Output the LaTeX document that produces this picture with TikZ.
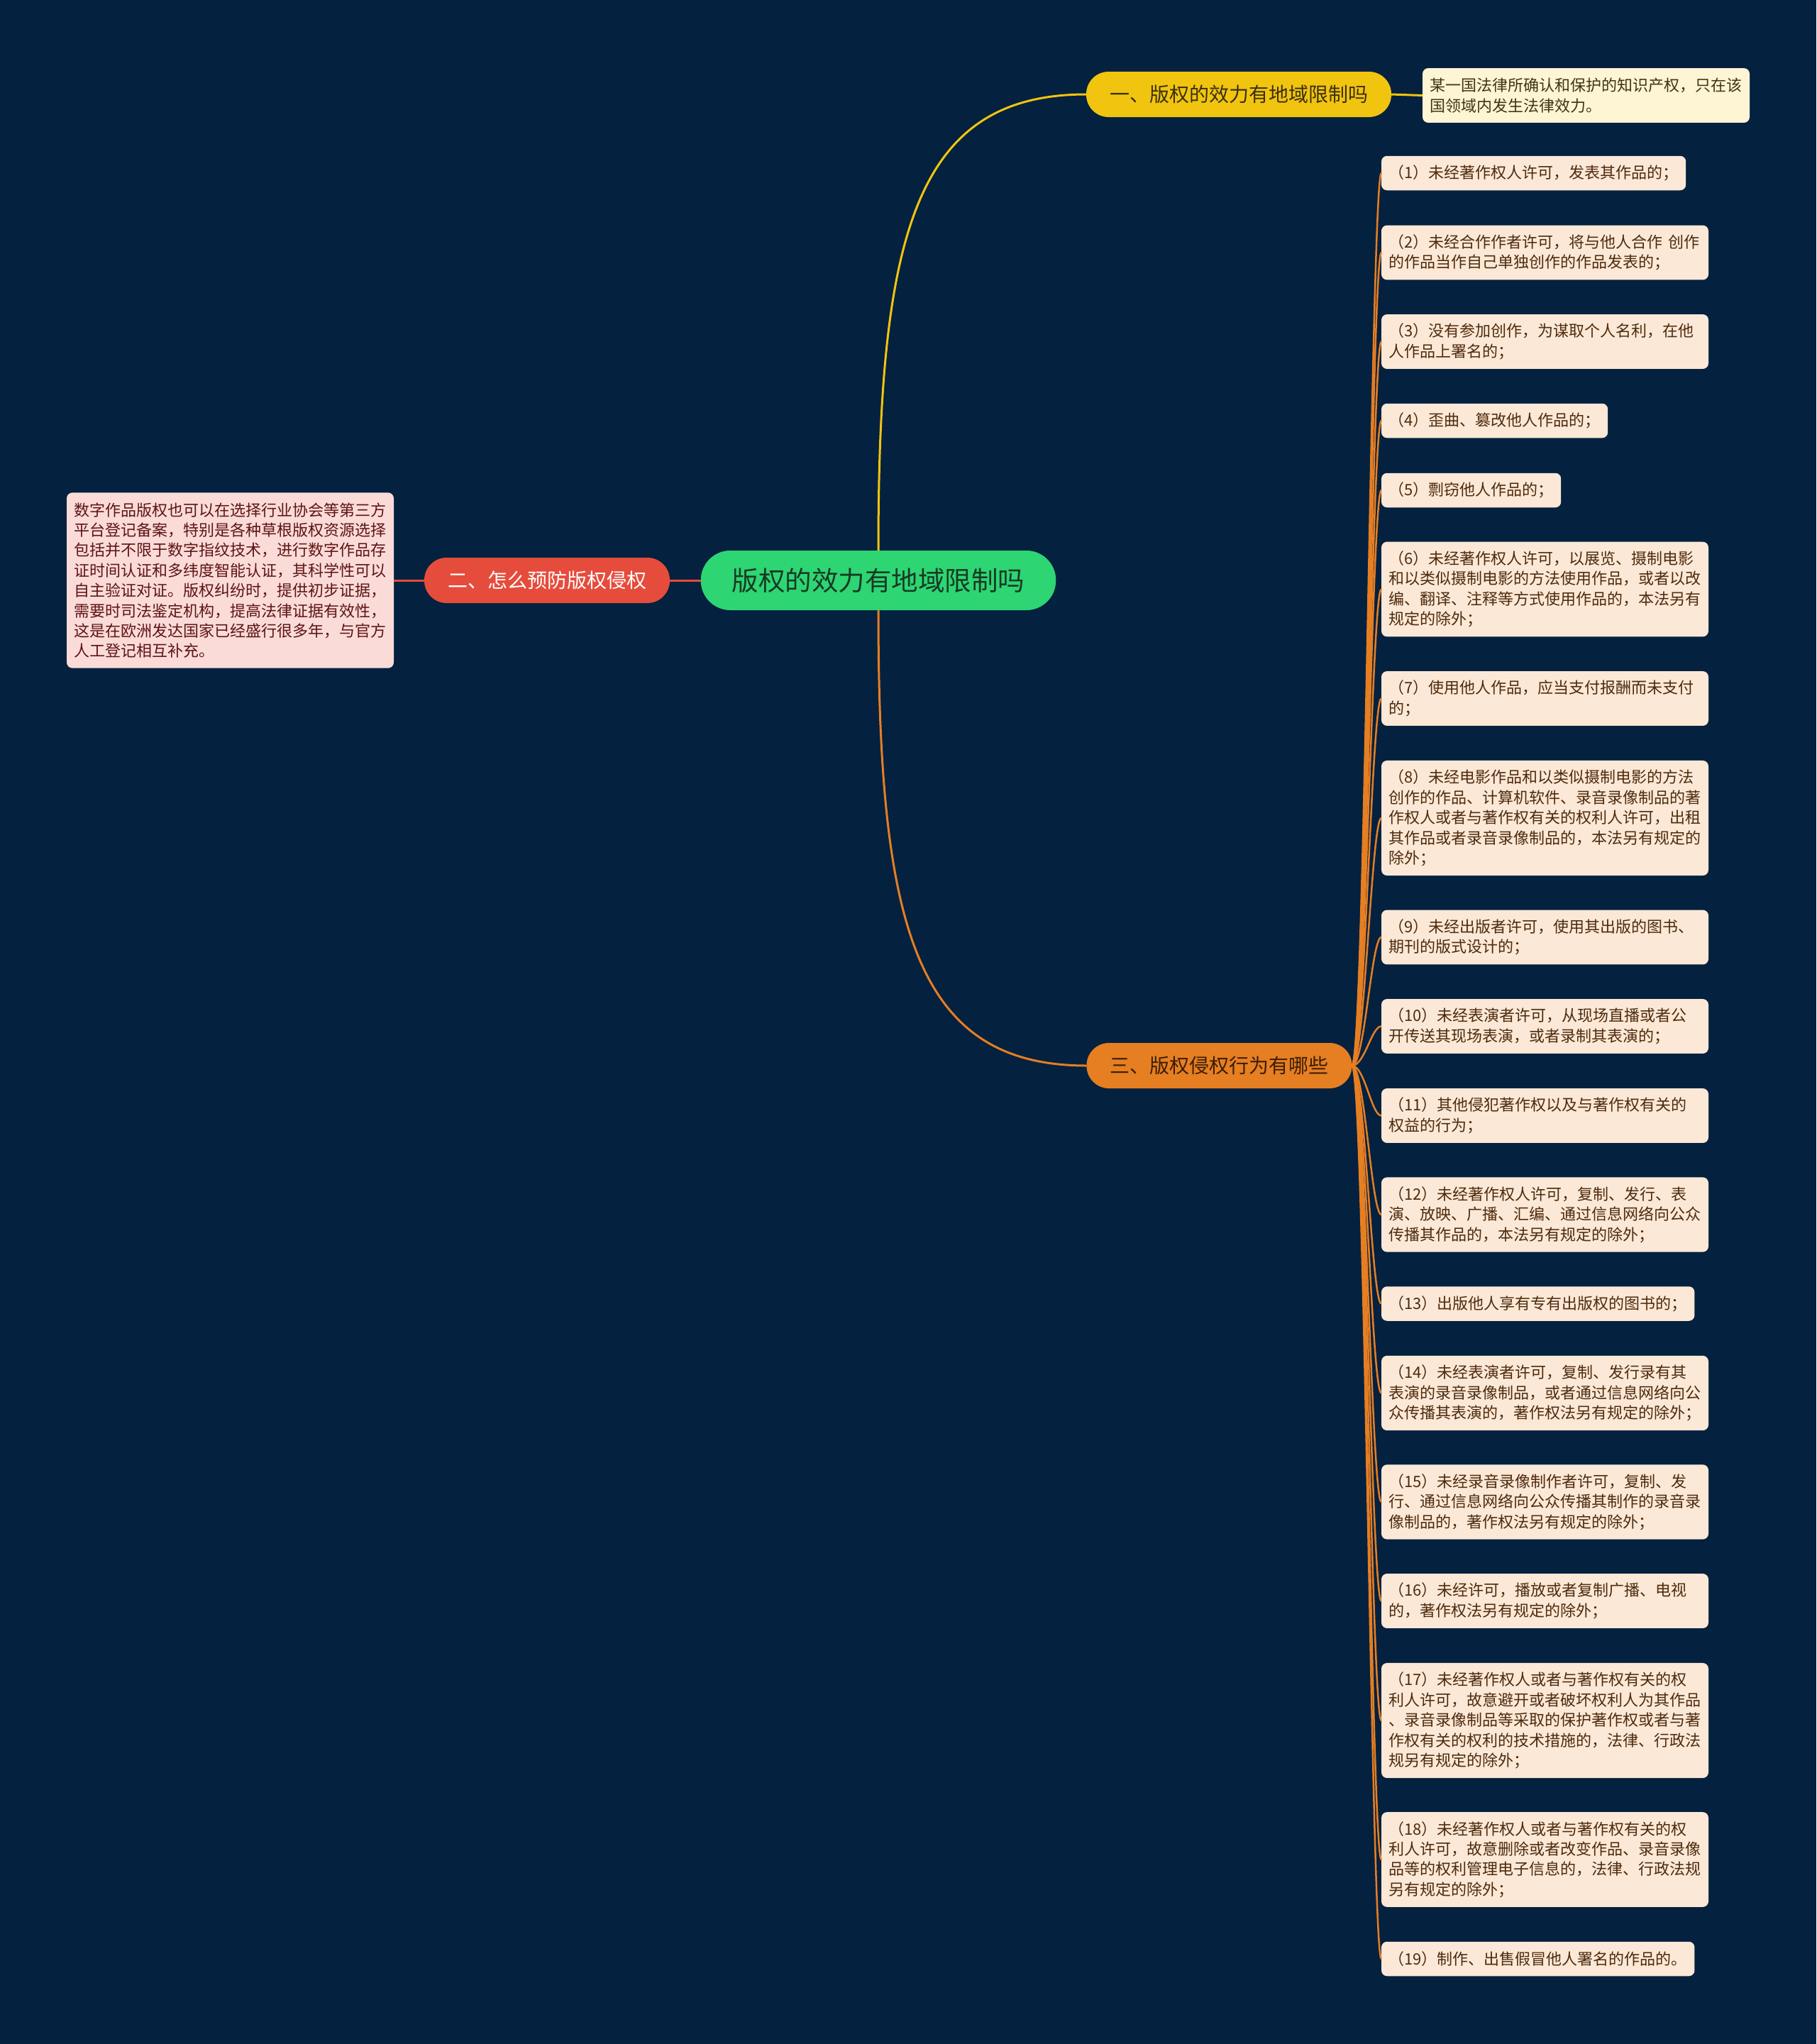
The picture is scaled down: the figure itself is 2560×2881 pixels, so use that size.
\documentclass[tikz,border=0pt]{standalone}
\usepackage{fontspec}
\setmainfont{Noto Sans CJK SC}
\definecolor{bg}{HTML}{04213F}
\definecolor{cgreen}{HTML}{2ED573}
\definecolor{cgreentext}{HTML}{173A24}
\definecolor{cyellow}{HTML}{F1C40F}
\definecolor{cyellowtext}{HTML}{3A3010}
\definecolor{cred}{HTML}{E64C3C}
\definecolor{corange}{HTML}{E67E22}
\definecolor{corangetext}{HTML}{3B1E05}
\definecolor{leafRfill}{HTML}{FCE8D6}
\definecolor{leafRtext}{HTML}{4D2B0E}
\definecolor{leafYfill}{HTML}{FEF5D4}
\definecolor{leafYtext}{HTML}{3E3512}
\definecolor{leafLfill}{HTML}{FADBD8}
\definecolor{leafLtext}{HTML}{5E1414}
\begin{document}
\begin{tikzpicture}[x=1pt,y=-1pt,
  every node/.style={inner sep=0pt, outer sep=0pt},
  nl/.style={minimum height={48.5pt+(#1-1)*28.4pt}},
  wide/.style={text width=440pt},
  leafbase/.style={rounded corners=8pt, align=left, inner xsep=10.5pt, inner ysep=3pt,
    font=\fontsize{22}{28.4}\selectfont},
  leafR/.style={leafbase, fill=leafRfill, text=leafRtext, anchor=west},
  leafY/.style={leafbase, fill=leafYfill, text=leafYtext, anchor=west},
  leafL/.style={leafbase, fill=leafLfill, text=leafLtext, anchor=east},
  branch/.style={rounded corners=31.5pt, minimum height=64pt, inner xsep=33pt,
    font=\fontsize{28}{34}\selectfont},
  centre/.style={rounded corners=41.5pt, minimum height=84pt, inner xsep=44pt,
    fill=cgreen, text=cgreentext, font=\fontsize{37.5}{44}\selectfont},
  cy/.style={draw=cyellow, line width=3pt},
  cr/.style={draw=cred, line width=3pt},
  co/.style={draw=corange, line width=3pt},
  col/.style={draw=corange, line width=2.5pt}
]
\fill[bg] (0,0) rectangle (2560,2881);
\useasboundingbox (0,0) rectangle (2560,2881);

% central and branches
\node[centre] (c) at (1238,818) {版权的效力有地域限制吗};
\node[branch, fill=cyellow, text=cyellowtext] (b1) at (1746,133) {一、版权的效力有地域限制吗};
\node[branch, fill=cred, text=white] (b2) at (771,818) {二、怎么预防版权侵权};
\node[branch, fill=corange, text=corangetext] (b3) at (1718.5,1502) {三、版权侵权行为有哪些};

% leaves
\node[leafY, wide, nl=2] (ly) at (2005,134.5) {某一国法律所确认和保护的知识产权，只在该\\国领域内发生法律效力。};
\node[leafL, wide, nl=8] (ll) at (555,818) {数字作品版权也可以在选择行业协会等第三方\\平台登记备案，特别是各种草根版权资源选择\\包括并不限于数字指纹技术，进行数字作品存\\证时间认证和多纬度智能认证，其科学性可以\\自主验证对证。版权纠纷时，提供初步证据，\\需要时司法鉴定机构，提高法律证据有效性，\\这是在欧洲发达国家已经盛行很多年，与官方\\人工登记相互补充。};

\node[leafR, nl=1] (l1) at (1947,244) {（1）未经著作权人许可，发表其作品的；};
\node[leafR, wide, nl=2] (l2) at (1947,356) {（2）未经合作作者许可，将与他人合作 创作\\的作品当作自己单独创作的作品发表的；};
\node[leafR, wide, nl=2] (l3) at (1947,481.5) {（3）没有参加创作，为谋取个人名利，在他\\人作品上署名的；};
\node[leafR, nl=1] (l4) at (1947,593) {（4）歪曲、篡改他人作品的；};
\node[leafR, nl=1] (l5) at (1947,691) {（5）剽窃他人作品的；};
\node[leafR, wide, nl=4] (l6) at (1947,830.5) {（6）未经著作权人许可，以展览、摄制电影\\和以类似摄制电影的方法使用作品，或者以改\\编、翻译、注释等方式使用作品的，本法另有\\规定的除外；};
\node[leafR, wide, nl=2] (l7) at (1947,984.5) {（7）使用他人作品，应当支付报酬而未支付\\的；};
\node[leafR, wide, nl=5] (l8) at (1947,1153) {（8）未经电影作品和以类似摄制电影的方法\\创作的作品、计算机软件、录音录像制品的著\\作权人或者与著作权有关的权利人许可，出租\\其作品或者录音录像制品的，本法另有规定的\\除外；};
\node[leafR, wide, nl=2] (l9) at (1947,1321) {（9）未经出版者许可，使用其出版的图书、\\期刊的版式设计的；};
\node[leafR, wide, nl=2] (l10) at (1947,1446.5) {（10）未经表演者许可，从现场直播或者公\\开传送其现场表演，或者录制其表演的；};
\node[leafR, wide, nl=2] (l11) at (1947,1572.5) {（11）其他侵犯著作权以及与著作权有关的\\权益的行为；};
\node[leafR, wide, nl=3] (l12) at (1947,1712) {（12）未经著作权人许可，复制、发行、表\\演、放映、广播、汇编、通过信息网络向公众\\传播其作品的，本法另有规定的除外；};
\node[leafR, nl=1] (l13) at (1947,1837.5) {（13）出版他人享有专有出版权的图书的；};
\node[leafR, wide, nl=3] (l14) at (1947,1963.5) {（14）未经表演者许可，复制、发行录有其\\表演的录音录像制品，或者通过信息网络向公\\众传播其表演的，著作权法另有规定的除外；};
\node[leafR, wide, nl=3] (l15) at (1947,2117) {（15）未经录音录像制作者许可，复制、发\\行、通过信息网络向公众传播其制作的录音录\\像制品的，著作权法另有规定的除外；};
\node[leafR, wide, nl=2] (l16) at (1947,2256.5) {（16）未经许可，播放或者复制广播、电视\\的，著作权法另有规定的除外；};
\node[leafR, wide, nl=5] (l17) at (1947,2425) {（17）未经著作权人或者与著作权有关的权\\利人许可，故意避开或者破坏权利人为其作品\\、录音录像制品等采取的保护著作权或者与著\\作权有关的权利的技术措施的，法律、行政法\\规另有规定的除外；};
\node[leafR, wide, nl=4] (l18) at (1947,2621) {（18）未经著作权人或者与著作权有关的权\\利人许可，故意删除或者改变作品、录音录像\\品等的权利管理电子信息的，法律、行政法规\\另有规定的除外；};
\node[leafR, nl=1] (l19) at (1947,2761) {（19）制作、出售假冒他人署名的作品的。};

% connectors
\draw[cy] (c.north) .. controls (1238,330) and (1290,133) .. (b1.west);
\draw[co] (c.south) .. controls (1238,1305) and (1290,1502) .. (b3.west);
\draw[cr] (c.west) -- (b2.east);
\draw[cr] (b2.west) -- (ll.east);
\draw[cy] (b1.east) -- (ly.west);
\foreach \i in {1,...,19} {
  \draw[col] (b3.east) .. controls +(18,0) and +(-14,0) .. (l\i.west);
}
\end{tikzpicture}
\end{document}
